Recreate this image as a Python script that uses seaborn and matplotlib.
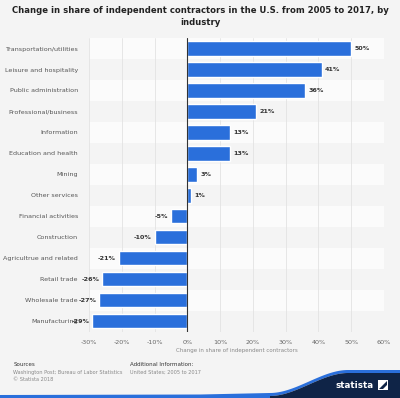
import numpy as np
import pandas as pd
import matplotlib.pyplot as plt
import seaborn as sns
from matplotlib.patches import Polygon, Rectangle

industries = ["Transportation/utilities", "Leisure and hospitality", "Public administration",
              "Professional/business", "Information", "Education and health", "Mining",
              "Other services", "Financial activities", "Construction", "Agricultrue and related",
              "Retail trade", "Wholesale trade", "Manufacturing"]
change = [50, 41, 36, 21, 13, 13, 3, 1, -5, -10, -21, -26, -27, -29]
x_ticks = [-30, -20, -10, 0, 10, 20, 30, 40, 50, 60]

df = pd.DataFrame({"industry": industries, "change": change})

sns.set_style("white")
plt.rcParams['font.family'] = ['DejaVu Sans']

bg = "#f4f4f4"
fig = plt.figure(figsize=(4, 3.98), dpi=100, facecolor=bg)
ax = fig.add_axes([0.2225, 0.166, 0.7375, 0.7385])
ax.set_facecolor(bg)

# alternating row bands
for i in range(len(industries)):
    if i % 2 == 0:
        ax.axhspan(i - 0.5, i + 0.5, color="#fbfbfb", zorder=0, lw=0)

for t in x_ticks:
    ax.axvline(t, color="#e3e3e3", lw=0.6, zorder=0.5)

sns.barplot(data=df, x="change", y="industry", orient="h", color="#2a6fdb",
            width=0.67, saturation=1, ax=ax, zorder=2)
ax.axvline(0, color="#333333", lw=0.8, zorder=3)

for i, v in enumerate(change):
    if v >= 0:
        ax.text(v + 1, i, f"{v}%", va="center", ha="left", fontsize=4.6,
                fontweight="bold", color="#333333", zorder=4)
    else:
        ax.text(v - 0.8, i, f"{v}%", va="center", ha="right", fontsize=4.6,
                fontweight="bold", color="#333333", zorder=4)

ax.set_xlim(-30, 60)
ax.set_ylim(len(industries) - 0.5, -0.5)
ax.set_xticks(x_ticks)
ax.set_xticklabels([f"{t}%" for t in x_ticks], fontsize=4.6, color="#666666")
ax.set_yticklabels(industries, fontsize=4.6, color="#555555")
ax.tick_params(axis="both", length=0, pad=6)
ax.tick_params(axis="y", pad=8)
ax.set_ylabel("")
ax.set_xlabel("Change in share of independent contractors", fontsize=4, color="#888888", labelpad=2)
for s in ax.spines.values():
    s.set_visible(False)

fig.text(0.5, 0.985, "Change in share of independent contractors in the U.S. from 2005 to 2017, by\nindustry",
         ha="center", va="top", fontsize=6.1, fontweight="bold", color="#222222", linespacing=1.5)

# footer
fig.text(0.033, 0.083, "Sources", fontsize=4, color="#333333", va="center")
fig.text(0.033, 0.065, "Washington Post; Bureau of Labor Statistics", fontsize=3.6, color="#888888", va="center")
fig.text(0.033, 0.047, "© Statista 2018", fontsize=3.6, color="#888888", va="center")
fig.text(0.325, 0.083, "Additional Information:", fontsize=4, color="#333333", va="center")
fig.text(0.325, 0.065, "United States; 2005 to 2017", fontsize=3.6, color="#888888", va="center")

# statista wave (pixel coords -> figure coords)
W, H = 400, 398
px = np.linspace(270, 348, 50)
s = (px - 270) / 78
s = s * s * (3 - 2 * s)
py = 396 - 23 * s
navy = np.vstack([[270, 398], *np.column_stack([px, py]), [400, 373], [400, 398]])
blue = np.vstack([[0, 398], [0, 395], [200, 394.5], *np.column_stack([px, py - 3]), [400, 370],
                  [400, 373], *np.column_stack([px, py])[::-1], [270, 398]])
to_fig = lambda a: np.column_stack([a[:, 0] / W, 1 - a[:, 1] / H])
fig.patches.append(Polygon(to_fig(blue), closed=True, transform=fig.transFigure,
                           color="#2a6fdb", zorder=0, lw=0))
fig.patches.append(Polygon(to_fig(navy), closed=True, transform=fig.transFigure,
                           color="#0f2447", zorder=0, lw=0))
fig.text(336 / W, 1 - 385 / H, "statista", fontsize=6.3, fontweight="bold", color="white",
         ha="left", va="center")
fig.patches.append(Rectangle((378 / W, 1 - 390 / H), 10 / W, 10 / H, transform=fig.transFigure,
                             color="white", zorder=1, lw=0))
fig.patches.append(Polygon(to_fig(np.array([[379, 389], [387, 381], [387, 385], [383, 389]])),
                           closed=True, transform=fig.transFigure, color="#0f2447", zorder=2, lw=0))

fig.savefig("out.png", dpi=100, facecolor=bg)
